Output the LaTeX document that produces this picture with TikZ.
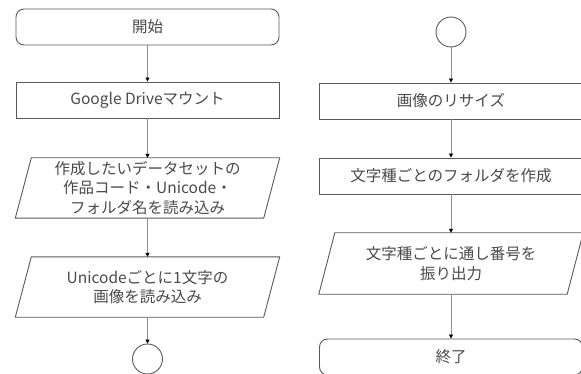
\documentclass[tikz,border=0pt]{standalone}
\usepackage{fontspec}
\setmainfont{Noto Sans CJK JP}
\usetikzlibrary{arrows.meta,calc}
\definecolor{bordc}{HTML}{595959}
\definecolor{txtc}{HTML}{4A4A4A}
\definecolor{arrc}{HTML}{8C8C8C}
\begin{document}
\begin{tikzpicture}[x=1pt,y=-1pt,
  base/.style={font=\fontsize{15.5}{19.5}\selectfont, text=txtc, align=center, inner sep=0pt},
  procbox/.style={base, draw=bordc, line width=0.9pt, minimum width=263pt, minimum height=36pt},
  termbox/.style={procbox, rounded corners=8pt},
  iobox/.style={base, minimum width=248pt, minimum height=60pt},
  conn/.style={base, draw=bordc, line width=0.9pt, circle, minimum size=30pt},
  pgram/.style={draw=bordc, line width=0.9pt},
  flow/.style={draw=arrc, line width=0.8pt, -{Triangle[length=4pt,width=4pt,color=black]}}]
\useasboundingbox (0,0) rectangle (581,374);
\clip (0,0) rectangle (581,374);
\fill[white] (0,0) rectangle (581,374);
% left column
\node[termbox] (start) at (147.5,27) {開始};
\node[procbox] (gd) at (147.5,100) {Google Driveマウント};
\node[iobox] (p1) at (147.5,188) {作成したいデータセットの\\作品コード・Unicode・\\フォルダ名を読み込み};
\node[iobox] (p2) at (147.5,287) {Unicodeごとに1文字の\\画像を読み込み};
\node[conn] (c1) at (147.5,359) {};
% right column
\node[conn] (c2) at (451,32) {};
\node[procbox] (rs) at (451,101) {画像のリサイズ};
\node[procbox] (fd) at (451,176) {文字種ごとのフォルダを作成};
\node[iobox, minimum height=61pt] (p3) at (451,263.5) {文字種ごとに通し番号を\\振り出力};
\node[termbox] (end) at (451,357) {終了};
% parallelograms
\foreach \n in {p1,p2,p3}{
  \draw[pgram] ($(\n.north west)+(8,0)$) -- ($(\n.north east)+(8,0)$)
    -- ($(\n.south east)+(-8,0)$) -- ($(\n.south west)+(-8,0)$) -- cycle;
}
% connectors
\draw[flow] (start) -- (gd);
\draw[flow] (gd) -- (p1);
\draw[flow] (p1) -- (p2);
\draw[flow] (p2) -- (c1);
\draw[flow] (c2) -- (rs);
\draw[flow] (rs) -- (fd);
\draw[flow] (fd) -- (p3);
\draw[flow] (p3) -- (end);
\end{tikzpicture}
\end{document}
